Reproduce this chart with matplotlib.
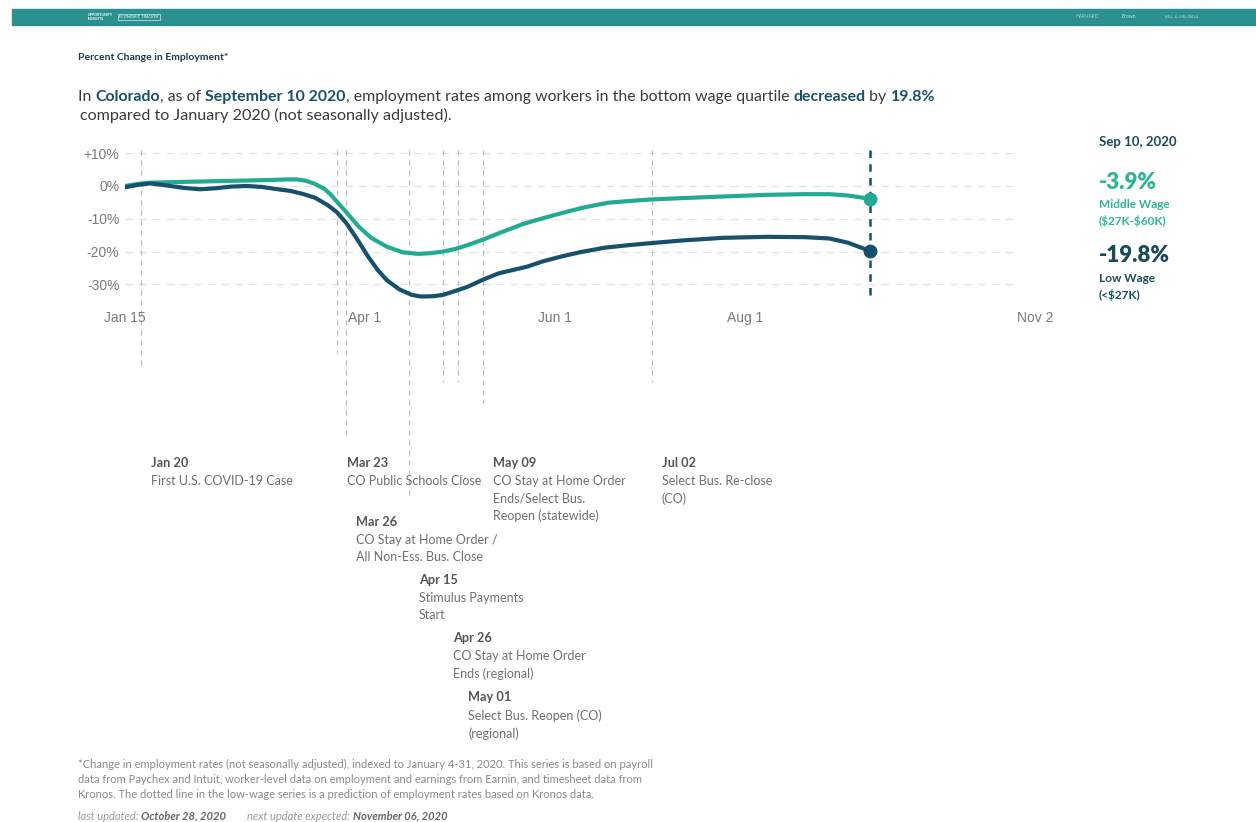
import matplotlib
matplotlib.use("Agg")
import matplotlib.pyplot as plt
import matplotlib.dates as mdates
import matplotlib.transforms as mtransforms
from matplotlib.offsetbox import TextArea, HPacker, AnchoredOffsetbox
from matplotlib.patches import Rectangle
import pandas as pd

# ---- data ----
mid_dates = ["2020-01-15", "2020-01-19", "2020-01-23", "2020-02-01", "2020-02-15",
             "2020-03-01", "2020-03-07", "2020-03-10", "2020-03-13", "2020-03-16",
             "2020-03-19", "2020-03-21", "2020-03-23", "2020-03-26", "2020-03-30",
             "2020-04-03", "2020-04-08", "2020-04-13", "2020-04-18", "2020-04-22",
             "2020-04-26", "2020-04-30", "2020-05-04", "2020-05-09", "2020-05-14",
             "2020-05-22", "2020-05-29", "2020-06-03", "2020-06-10", "2020-06-18",
             "2020-06-26", "2020-07-02", "2020-07-12", "2020-07-25", "2020-08-08",
             "2020-08-20", "2020-08-28", "2020-09-03", "2020-09-10"]
mid_vals = [0.0, 0.6, 1.0, 1.2, 1.5, 1.8, 2.0, 2.0, 1.6, 0.6, -0.9, -2.6, -4.8, -8.0,
            -12.4, -15.8, -18.5, -20.2, -20.7, -20.5, -20.0, -19.2, -18.0, -16.3, -14.4,
            -11.5, -9.6, -8.3, -6.6, -5.1, -4.5, -4.1, -3.7, -3.2, -2.7, -2.5, -2.5,
            -2.9, -3.9]

low_dates = ["2020-01-15", "2020-01-19", "2020-01-23", "2020-01-28", "2020-02-03",
             "2020-02-08", "2020-02-13", "2020-02-18", "2020-02-23", "2020-02-28",
             "2020-03-04", "2020-03-08", "2020-03-12", "2020-03-16", "2020-03-20",
             "2020-03-23", "2020-03-26", "2020-03-29", "2020-04-02", "2020-04-05",
             "2020-04-08", "2020-04-12", "2020-04-16", "2020-04-19", "2020-04-23",
             "2020-04-26", "2020-04-30", "2020-05-04", "2020-05-09", "2020-05-14",
             "2020-05-19", "2020-05-23", "2020-05-28", "2020-06-03", "2020-06-09",
             "2020-06-17", "2020-06-25", "2020-07-02", "2020-07-12", "2020-07-25",
             "2020-08-08", "2020-08-20", "2020-08-28", "2020-09-03", "2020-09-10"]
low_vals = [-0.4, 0.3, 0.8, 0.2, -0.6, -1.0, -0.7, -0.2, 0.0, -0.3, -1.0, -1.5, -2.4,
            -3.6, -5.8, -8.0, -11.3, -15.5, -21.5, -25.5, -28.7, -31.5, -33.2, -33.7,
            -33.6, -33.2, -32.0, -30.7, -28.5, -26.6, -25.5, -24.6, -23.0, -21.5,
            -20.2, -18.8, -18.0, -17.4, -16.6, -15.8, -15.5, -15.6, -16.0, -17.3, -19.8]

xtick_dates = ["2020-01-15", "2020-04-01", "2020-06-01", "2020-08-01", "2020-11-02"]
xtick_labels = ["Jan 15", "Apr 1", "Jun 1", "Aug 1", "Nov 2"]
ytick_vals = [10, 0, -10, -20, -30]
ytick_labels = ["+10%", "0%", "-10%", "-20%", "-30%"]

event_dates = ["2020-01-20", "2020-03-23", "2020-03-26", "2020-04-15",
               "2020-04-26", "2020-05-01", "2020-05-09", "2020-07-02"]
event_titles = ["Jan 20", "Mar 23", "Mar 26", "Apr 15", "Apr 26", "May 01", "May 09", "Jul 02"]
event_texts = ["First U.S. COVID-19 Case",
               "CO Public Schools Close",
               "CO Stay at Home Order /\nAll Non-Ess. Bus. Close",
               "Stimulus Payments\nStart",
               "CO Stay at Home Order\nEnds (regional)",
               "Select Bus. Reopen (CO)\n(regional)",
               "CO Stay at Home Order\nEnds/Select Bus.\nReopen (statewide)",
               "Select Bus. Re-close\n(CO)"]
# layout (pixels from top): where each event line stops and where its label sits
event_line_bottom = [367, 353, 438, 497, 382, 382, 403, 382]
event_label_y = [463, 463, 522, 580, 638, 697, 463, 463]

last_date = "2020-09-10"

TEAL = "#22aa92"
NAVY = "#17506c"
W, H = 1256, 822

plt.rcParams['font.family'] = ['Lato', 'DejaVu Sans']

fig = plt.figure(figsize=(W / 100, H / 100), dpi=100)
fig.patch.set_facecolor("white")

# axes box in pixels
ax_left, ax_right = 125, 1035
ax_top, ax_bot = 146.6, 300.8
ax = fig.add_axes([ax_left / W, 1 - ax_bot / H, (ax_right - ax_left) / W, (ax_bot - ax_top) / H])
ax.set_facecolor("none")

md = pd.to_datetime(mid_dates)
ld = pd.to_datetime(low_dates)
ax.set_xlim(pd.Timestamp(xtick_dates[0]), pd.Timestamp(xtick_dates[-1]))
ax.set_ylim(-35, 12)

for v in ytick_vals:
    ax.axhline(v, xmin=0, xmax=0.98, color="#e2e2e2", lw=0.9, ls=(0, (6, 5)), zorder=0)

ax.set_yticks(ytick_vals)
ax.set_yticklabels(ytick_labels, fontfamily="Liberation Sans", fontsize=10, color="#7a7a7a")
ax.set_xticks(pd.to_datetime(xtick_dates))
ax.set_xticklabels(xtick_labels, fontfamily="Liberation Sans", fontsize=10, color="#7a7a7a")
ax.tick_params(length=0)
ax.tick_params(axis="y", pad=4)
ax.tick_params(axis="x", pad=7)
for s in ax.spines.values():
    s.set_visible(False)

def frac(px):
    return (ax_bot - px) / (ax_bot - ax_top)

# event lines
xt = ax.get_xaxis_transform()
for d, b in zip(event_dates, event_line_bottom):
    dd = pd.Timestamp(d)
    ax.plot([dd, dd], [frac(150), frac(b)], transform=xt, clip_on=False,
            color="#bcbcbc", lw=0.9, ls=(0, (4, 4)), zorder=1)

# series
ax.plot(md, mid_vals, color=TEAL, lw=3, solid_capstyle="round", solid_joinstyle="round", zorder=3)
ax.plot(ld, low_vals, color=NAVY, lw=3, solid_capstyle="round", solid_joinstyle="round", zorder=3)

ld_last = pd.Timestamp(last_date)
ax.plot([ld_last, ld_last], [frac(150), frac(298)], transform=xt, clip_on=False,
        color=NAVY, lw=1.8, ls=(0, (3, 2.5)), zorder=2)
ax.plot([md[-1]], [mid_vals[-1]], "o", color=TEAL, ms=9, zorder=4)
ax.plot([ld[-1]], [low_vals[-1]], "o", color=NAVY, ms=9, zorder=4)

# event labels
blend = mtransforms.blended_transform_factory(ax.transData, fig.transFigure)
btrans = mtransforms.offset_copy(blend, fig=fig, x=10, y=0, units="dots")
for d, t, txt, y in zip(event_dates, event_titles, event_texts, event_label_y):
    dd = mdates.date2num(pd.Timestamp(d))
    fig.text(dd, 1 - y / H, t, transform=btrans, fontsize=9.2, fontweight="bold",
             color="#555555", va="center", ha="left")
    fig.text(dd, 1 - (y + 12) / H, txt, transform=btrans, fontsize=9,
             color="#707070", va="top", ha="left", linespacing=1.52)

# header bar
fig.patches.append(Rectangle((12 / W, 1 - 25 / H), 1, 16 / H, transform=fig.transFigure,
                             color="#2b9190", zorder=0))
fig.text(88 / W, 1 - 17 / H, "OPPORTUNITY\nINSIGHTS", fontsize=2.6, color="white",
         va="center", ha="left", fontweight="bold", linespacing=0.9)
fig.text(119 / W, 1 - 17 / H, "ECONOMIC TRACKER", fontsize=2.8, color="white", va="center",
         ha="left", bbox=dict(boxstyle="square,pad=0.3", fc="#2b9190", ec="white", lw=0.4))
fig.text(1075 / W, 1 - 17 / H, "HARVARD", fontsize=3.5, color="#a9d3d1", va="center")
fig.text(1122 / W, 1 - 17 / H, "Brown", fontsize=3.5, color="#cfe6e4", va="center")
fig.text(1165 / W, 1 - 17 / H, "BILL & MELINDA", fontsize=3.2, color="#a9d3d1", va="center")

# titles
fig.text(78 / W, 1 - 58 / H, "Percent Change in Employment*", fontsize=7.5, fontweight="bold",
         color="#1f3a44", va="center")

def runs(parts, x, y, size, style="normal"):
    boxes = []
    for s, bold, col in parts:
        boxes.append(TextArea(s, textprops=dict(fontsize=size, color=col, fontstyle=style,
                                                fontweight="bold" if bold else "normal")))
    pack = HPacker(children=boxes, align="baseline", pad=0, sep=0)
    ab = AnchoredOffsetbox(loc="center left", child=pack, bbox_to_anchor=(x / W, 1 - y / H),
                           bbox_transform=fig.transFigure, frameon=False, pad=0, borderpad=0)
    fig.add_artist(ab)

DK = "#1b5066"
TX = "#3a3a3a"
runs([("In ", False, TX), ("Colorado", True, DK), (", as of ", False, TX),
      ("September 10 2020", True, DK),
      (", employment rates among workers in the bottom wage quartile ", False, TX),
      ("decreased", True, DK), (" by ", False, TX), ("19.8%", True, DK)], 78, 97, 11.45)
fig.text(80 / W, 1 - 115 / H, "compared to January 2020 (not seasonally adjusted).",
         fontsize=11.6, color=TX, va="center")

# right panel
rx = 1099 / W
fig.text(rx, 1 - 142 / H, "Sep 10, 2020", fontsize=9.5, fontweight="bold", color="#1d4a58", va="center")
fig.text(rx, 1 - 182 / H, "-3.9%", fontsize=16, fontweight="heavy", color="#2db595", va="center")
fig.text(rx, 1 - 213 / H, "Middle Wage\n(\\$27K-\\$60K)", fontsize=8.5, fontweight="bold",
         color="#2db595", va="center", linespacing=1.45)
fig.text(rx, 1 - 255 / H, "-19.8%", fontsize=16, fontweight="heavy", color="#184a5c", va="center")
fig.text(rx, 1 - 287 / H, "Low Wage\n(<\\$27K)", fontsize=8.5, fontweight="bold",
         color="#184a5c", va="center", linespacing=1.45)

# footnotes
fig.text(78 / W, 1 - 759 / H,
         "*Change in employment rates (not seasonally adjusted), indexed to January 4-31, 2020. "
         "This series is based on payroll\ndata from Paychex and Intuit, worker-level data on "
         "employment and earnings from Earnin, and timesheet data from\nKronos. The dotted line "
         "in the low-wage series is a prediction of employment rates based on Kronos data.",
         fontsize=8.0, color="#8a8a8a", va="top", linespacing=1.45)
runs([("last updated: ", False, "#999999"), ("October 28, 2020", True, "#666666"),
      ("        next update expected: ", False, "#999999"), ("November 06, 2020", True, "#666666")],
     78, 816, 8, style="italic")

fig.savefig("out.png", dpi=100, facecolor="white")
